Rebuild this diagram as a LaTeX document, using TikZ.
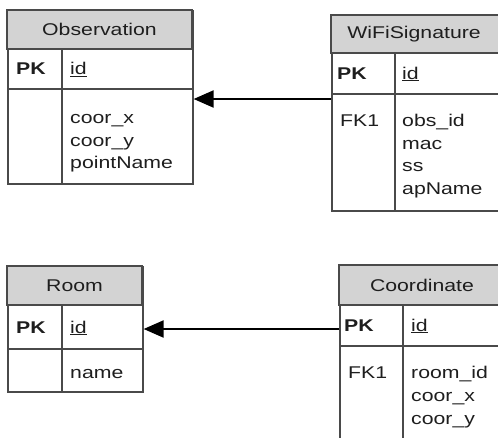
\documentclass[tikz,border=0pt]{standalone}
\usepackage{fontspec}
\setmainfont{Liberation Sans}[FakeStretch=1.25]
\usetikzlibrary{arrows.meta}
\definecolor{bord}{HTML}{4A4A4A}
\definecolor{hdr}{HTML}{D3D3D3}
\definecolor{txt}{HTML}{1E1E1E}
\begin{document}
\begin{tikzpicture}[x=1pt,y=-1pt,
  tbl/.style={draw=bord, line width=1.6pt, fill=white, inner sep=0pt, anchor=north west},
  hdrfill/.style={fill=hdr, draw=bord, line width=1.6pt},
  sep/.style={draw=bord, line width=1.6pt},
  title/.style={inner sep=0pt, text=txt, font=\fontsize{17}{20}\selectfont},
  fld/.style={inner sep=0pt, anchor=base west, text=txt, font=\fontsize{17}{20}\selectfont},
  key/.style={fld, font=\fontsize{17}{20}\selectfont\bfseries},
  conn/.style={draw=black, line width=2pt, -{Triangle[length=20pt,width=17pt]}}]
\useasboundingbox (0,0) rectangle (498,437);
\clip (0,0) rectangle (498,437);
\fill[white] (0,0) rectangle (498,437);

% Observation
\node[tbl, minimum width=185pt, minimum height=173pt] (obs) at (7,10) {};
\path[hdrfill] (7,10) rectangle (192,49);
\path[sep] (7,89) -- (192,89) (62,49) -- (62,183);
\node[title] (obsT) at (99.5,29.5) {Observation};
\node[key] (obsPK) at (16,74.5) {PK};
\node[fld] (obsId) at (70,74.5) {\underline{id}};
\node[fld] (obsF1) at (70,123.5) {coor\_x};
\node[fld] (obsF2) at (70,146) {coor\_y};
\node[fld] (obsF3) at (70,168.5) {pointName};

% WiFiSignature
\node[tbl, minimum width=168pt, minimum height=195pt] (wifi) at (331,15) {};
\path[hdrfill] (331,15) rectangle (499,53);
\path[sep] (331,94) -- (499,94) (395,53) -- (395,210);
\node[title] (wifiT) at (414,34) {WiFiSignature};
\node[key] (wifiPK) at (337,79) {PK};
\node[fld] (wifiId) at (402,79) {\underline{id}};
\node[fld] (wifiFK) at (340,126) {FK1};
\node[fld] (wifiF1) at (402,126) {obs\_id};
\node[fld] (wifiF2) at (402,149) {mac};
\node[fld] (wifiF3) at (402,171.5) {ss};
\node[fld] (wifiF4) at (402,194) {apName};

% Room
\node[tbl, minimum width=135pt, minimum height=125pt] (room) at (7,266) {};
\path[hdrfill] (7,266) rectangle (142,305);
\path[sep] (7,349) -- (142,349) (62,305) -- (62,391);
\node[title] (roomT) at (74.5,285.5) {Room};
\node[key] (roomPK) at (16,333) {PK};
\node[fld] (roomId) at (70,333) {\underline{id}};
\node[fld] (roomF1) at (70,378) {name};

% Coordinate
\node[tbl, minimum width=166pt, minimum height=190pt] (coord) at (339,265) {};
\path[hdrfill] (339,265) rectangle (505,305);
\path[sep] (339,346) -- (505,346) (403,305) -- (403,455);
\node[title] (coordT) at (422,285) {Coordinate};
\node[key] (coordPK) at (344,331) {PK};
\node[fld] (coordId) at (411,331) {\underline{id}};
\node[fld] (coordFK) at (348,378) {FK1};
\node[fld] (coordF1) at (411,378) {room\_id};
\node[fld] (coordF2) at (411,401) {coor\_x};
\node[fld] (coordF3) at (411,424) {coor\_y};

% connectors
\coordinate (y1) at (0,99);
\coordinate (y2) at (0,329);
\draw[conn] (y1 -| wifi.west) -- (y1 -| obs.east);
\draw[conn] (y2 -| coord.west) -- (y2 -| room.east);
\end{tikzpicture}
\end{document}
